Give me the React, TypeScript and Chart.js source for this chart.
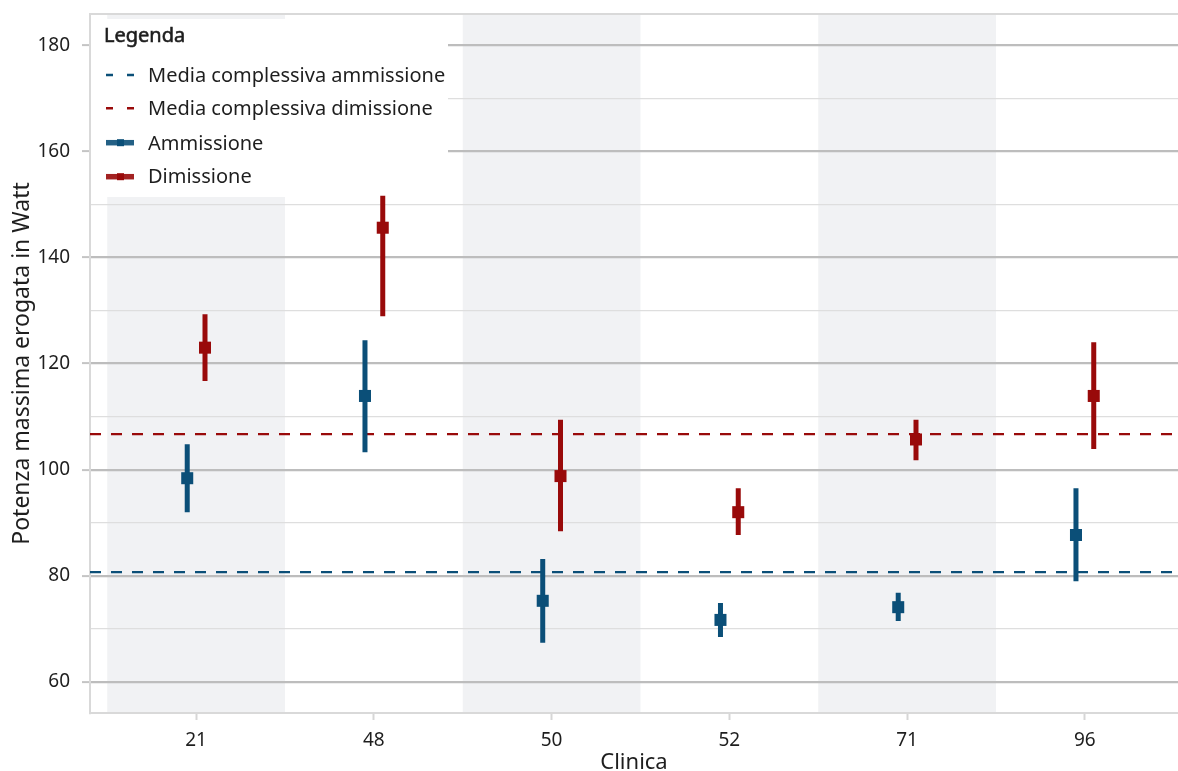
import React, { useEffect, useRef } from 'react';
import { Chart, registerables } from 'chart.js';

Chart.register(...registerables);

// ---- data ----
const clinics = ['21', '48', '50', '52', '71', '96'];
const admissionMean = [98.4, 113.9, 75.3, 71.7, 74.1, 87.7];
const admissionLow = [92.0, 103.3, 67.4, 68.5, 71.5, 79.0];
const admissionHigh = [104.8, 124.4, 83.2, 74.9, 76.8, 96.5];
const dischargeMean = [123.0, 145.6, 98.8, 92.0, 105.7, 113.9];
const dischargeLow = [116.7, 128.9, 88.4, 87.7, 101.8, 103.9];
const dischargeHigh = [129.3, 151.6, 109.4, 96.5, 109.4, 124.0];
const overallAdmission = 80.7;
const overallDischarge = 106.7;
const yTickValues = [60, 70, 80, 90, 100, 110, 120, 130, 140, 150, 160, 170, 180];
const legendTitle = 'Legenda';
const legendLabels = [
  'Media complessiva ammissione',
  'Media complessiva dimissione',
  'Ammissione',
  'Dimissione',
];
const xTitle = 'Clinica';
const yTitle = 'Potenza massima erogata in Watt';

// ---- style ----
const FONT = '"Noto Sans", "DejaVu Sans", sans-serif';
const BLUE = '#0b4f78';
const RED = '#990a0a';
const TEXT = '#1e1e1e';
const X_MIN = 0.403;
const X_MAX = 6.524;
const DODGE = 0.05;

const errData = (low: number[], high: number[], shift: number) =>
  low.flatMap((l, i) => [
    { x: i + 1 + shift, y: l },
    { x: i + 1 + shift, y: high[i] },
    { x: i + 1 + shift, y: null },
  ]);

const pointData = (vals: number[], shift: number) =>
  vals.map((v, i) => ({ x: i + 1 + shift, y: v }));

const bandsPlugin = {
  id: 'bands',
  beforeDraw(chart: any) {
    const { ctx, chartArea, scales } = chart;
    const xs = scales.x;
    ctx.save();
    ctx.fillStyle = '#f1f2f4';
    clinics.forEach((_, i) => {
      if (i % 2 !== 0) return;
      const a = xs.getPixelForValue(i + 0.5);
      const b = xs.getPixelForValue(i + 1.5);
      ctx.fillRect(a, chartArea.top, b - a, chartArea.bottom - chartArea.top);
    });
    ctx.restore();
  },
};

const legendPlugin = {
  id: 'customLegend',
  beforeDatasetsDraw(chart: any) {
    const { ctx, chartArea } = chart;
    const L = chartArea.left;
    ctx.save();
    // panel top border
    ctx.strokeStyle = '#d9d9d9';
    ctx.lineWidth = 2;
    ctx.beginPath();
    ctx.moveTo(chartArea.left, chartArea.top);
    ctx.lineTo(chartArea.right, chartArea.top);
    ctx.stroke();
    // legend box
    ctx.fillStyle = '#ffffff';
    ctx.fillRect(L + 1, 19, 357, 178);
    ctx.fillStyle = TEXT;
    ctx.strokeStyle = TEXT;
    ctx.textBaseline = 'alphabetic';
    ctx.textAlign = 'left';
    ctx.font = `20px ${FONT}`;
    ctx.lineWidth = 0.6;
    ctx.fillText(legendTitle, L + 14, 41.7);
    ctx.strokeText(legendTitle, L + 14, 41.7);
    const rows = [81.7, 115, 150, 183.3];
    const syms = [75, 108.3, 142.7, 176.7];
    const colors = [BLUE, RED, BLUE, RED];
    legendLabels.forEach((lab, i) => {
      const sy = syms[i];
      ctx.strokeStyle = colors[i];
      if (i < 2) {
        ctx.lineWidth = 2.5;
        ctx.setLineDash([7, 14]);
        ctx.beginPath();
        ctx.moveTo(L + 16, sy);
        ctx.lineTo(L + 44, sy);
        ctx.stroke();
        ctx.setLineDash([]);
      } else {
        ctx.lineWidth = 5.5;
        ctx.globalAlpha = 0.9;
        ctx.beginPath();
        ctx.moveTo(L + 16, sy);
        ctx.lineTo(L + 44, sy);
        ctx.stroke();
        ctx.globalAlpha = 1;
        ctx.fillStyle = colors[i];
        ctx.fillRect(L + 27, sy - 3.5, 7, 7);
      }
      ctx.fillStyle = TEXT;
      ctx.fillText(lab, L + 58, rows[i]);
    });
    ctx.restore();
  },
};

export default function App() {
  const ref = useRef<HTMLCanvasElement | null>(null);

  useEffect(() => {
    document.body.style.margin = '0';
    if (!ref.current) return;
    const chart = new Chart(ref.current, {
      type: 'line',
      data: {
        datasets: [
          {
            label: 'Ammissione',
            data: pointData(admissionMean, -DODGE),
            showLine: false,
            pointStyle: 'rect',
            pointRadius: 8.5,
            pointBorderWidth: 0,
            pointBackgroundColor: BLUE,
            order: 0,
          },
          {
            label: 'Dimissione',
            data: pointData(dischargeMean, DODGE),
            showLine: false,
            pointStyle: 'rect',
            pointRadius: 8.5,
            pointBorderWidth: 0,
            pointBackgroundColor: RED,
            order: 0,
          },
          {
            label: 'Ammissione IC',
            data: errData(admissionLow, admissionHigh, -DODGE),
            borderColor: BLUE,
            borderWidth: 5,
            borderCapStyle: 'butt',
            pointRadius: 0,
            spanGaps: false,
            order: 1,
          },
          {
            label: 'Dimissione IC',
            data: errData(dischargeLow, dischargeHigh, DODGE),
            borderColor: RED,
            borderWidth: 5,
            borderCapStyle: 'butt',
            pointRadius: 0,
            spanGaps: false,
            order: 1,
          },
          {
            label: legendLabels[0],
            data: [
              { x: X_MIN, y: overallAdmission },
              { x: X_MAX, y: overallAdmission },
            ],
            borderColor: BLUE,
            borderWidth: 2.3,
            borderDash: [11, 10],
            pointRadius: 0,
            order: 2,
          },
          {
            label: legendLabels[1],
            data: [
              { x: X_MIN, y: overallDischarge },
              { x: X_MAX, y: overallDischarge },
            ],
            borderColor: RED,
            borderWidth: 2.3,
            borderDash: [11, 10],
            pointRadius: 0,
            order: 2,
          },
        ] as any,
      },
      options: {
        animation: false,
        responsive: false,
        layout: { autoPadding: false, padding: { top: 14, left: 0, right: 0, bottom: 0 } },
        plugins: {
          legend: { display: false },
          tooltip: { enabled: false },
        },
        scales: {
          x: {
            type: 'linear',
            min: X_MIN,
            max: X_MAX,
            afterBuildTicks: (s: any) => {
              s.ticks = clinics.map((_, i) => ({ value: i + 1 }));
            },
            afterFit: (s: any) => {
              s.height = 58;
              s.paddingLeft = 0;
              s.paddingRight = 0;
            },
            ticks: {
              autoSkip: false,
              maxRotation: 0,
              padding: 9,
              color: TEXT,
              font: { family: FONT, size: 19 },
              callback: (v: any) => clinics[Math.round(Number(v)) - 1] ?? '',
            },
            grid: {
              drawOnChartArea: false,
              drawTicks: true,
              tickLength: 7,
              tickColor: '#d6d6d6',
              tickWidth: 2,
            },
            border: { display: true, color: '#d9d9d9', width: 2 },
            title: {
              display: true,
              text: xTitle,
              color: TEXT,
              font: { family: FONT, size: 22, lineHeight: 0.75 },
              padding: 0,
            },
          },
          y: {
            type: 'linear',
            min: 54.16,
            max: 185.87,
            afterBuildTicks: (s: any) => {
              s.ticks = yTickValues.map((v) => ({ value: v }));
            },
            afterFit: (s: any) => {
              s.width = 90;
              s.paddingTop = 0;
              s.paddingBottom = 0;
            },
            ticks: {
              autoSkip: false,
              padding: 12,
              color: TEXT,
              font: { family: FONT, size: 19 },
              callback: (v: any) => (Number(v) % 20 === 0 ? String(v) : ''),
            },
            grid: {
              color: (c: any) => (c.tick && c.tick.value % 20 === 0 ? '#bdbdbd' : '#dedede'),
              lineWidth: (c: any) => (c.tick && c.tick.value % 20 === 0 ? 2.2 : 1.3),
              tickLength: 8,
              tickColor: (c: any) => (c.tick && c.tick.value % 20 === 0 ? '#c4c4c4' : 'rgba(0,0,0,0)'),
              tickWidth: 2,
            },
            border: { display: true, color: '#d9d9d9', width: 2 },
            title: {
              display: true,
              text: yTitle,
              color: TEXT,
              font: { family: FONT, size: 23, lineHeight: 1 },
              padding: { top: 11, bottom: 0 },
            },
          },
        },
      } as any,
      plugins: [bandsPlugin, legendPlugin],
    });
    return () => chart.destroy();
  }, []);

  return (
    <div style={{ position: 'fixed', left: 0, top: 0, width: 1178, height: 771 }}>
      <canvas ref={ref} width={1178} height={771} />
    </div>
  );
}
